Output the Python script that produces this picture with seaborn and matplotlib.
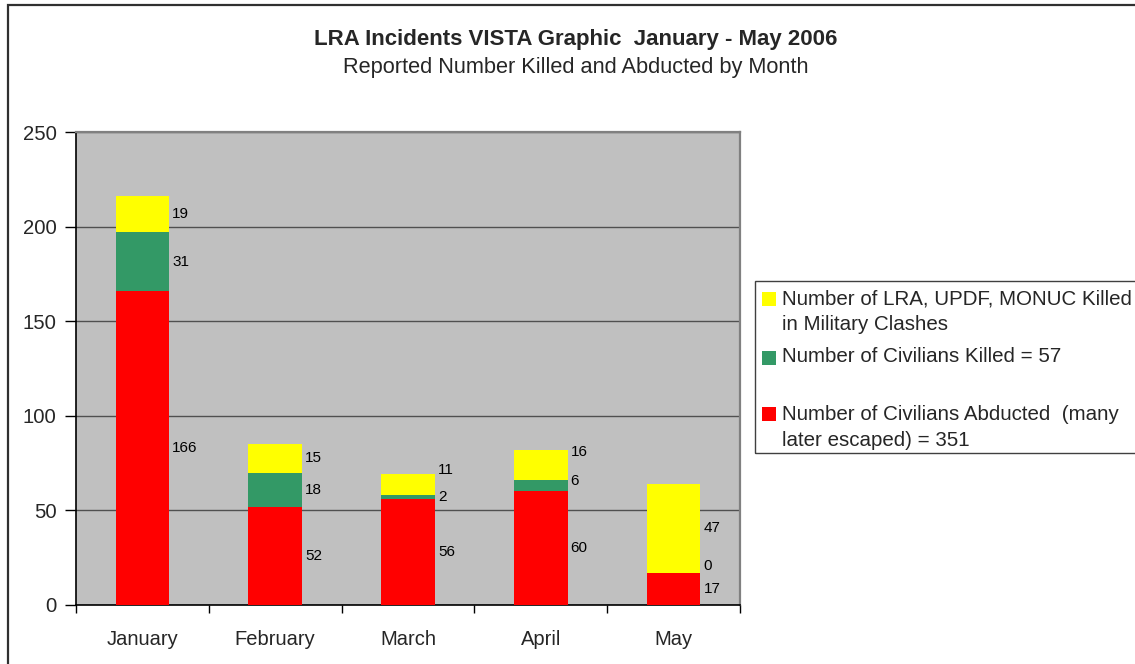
import numpy as np
import pandas as pd
import seaborn as sns
import matplotlib
matplotlib.use("Agg")
import matplotlib.pyplot as plt
import matplotlib.patches as patches

# data
months = ["January", "February", "March", "April", "May"]
abducted = [166, 52, 56, 60, 17]
civ_killed = [31, 18, 2, 6, 0]
mil_killed = [19, 15, 11, 16, 47]

legend_labels = [
    ["Number of LRA, UPDF, MONUC Killed", "in Military Clashes"],
    ["Number of Civilians Killed = 57"],
    ["Number of Civilians Abducted  (many", "later escaped) = 351"],
]

YELLOW = "#FFFF00"
GREEN = "#339966"
RED = "#FF0000"

sns.set_style("white")
plt.rcParams["font.family"] = ["Liberation Sans", "DejaVu Sans"]

df = pd.DataFrame({"month": months, "abducted": abducted,
                   "civ": civ_killed, "mil": mil_killed})
df["lvl2"] = df["abducted"] + df["civ"]
df["total"] = df["lvl2"] + df["mil"]

W, H = 1135, 664
fig = plt.figure(figsize=(W / 100, H / 100), dpi=100)
ax = fig.add_axes([76 / W, 1 - 605 / H, (740 - 76) / W, (605 - 132) / H])
ax.set_facecolor("#C0C0C0")

# stacked bars: draw the tallest first and cover it
bw = 0.405
sns.barplot(data=df, x="month", y="total", color=YELLOW, saturation=1,
            width=bw, ax=ax, linewidth=0, zorder=3)
sns.barplot(data=df, x="month", y="lvl2", color=GREEN, saturation=1,
            width=bw, ax=ax, linewidth=0, zorder=3)
sns.barplot(data=df, x="month", y="abducted", color=RED, saturation=1,
            width=bw, ax=ax, linewidth=0, zorder=3)

# labels that Excel pushed apart (pixels up), keyed (month, segment)
nudge = {(2, 2): 15, (3, 2): 13, (3, 1): 5, (4, 1): 7}

# value labels at the middle of each segment, right of the bar
for i, row in df.iterrows():
    segs = [(row["abducted"], row["abducted"] / 2),
            (row["civ"], row["abducted"] + row["civ"] / 2),
            (row["mil"], row["lvl2"] + row["mil"] / 2)]
    for k, (val, yc) in enumerate(segs):
        dy = nudge.get((i, k), 0)
        ax.annotate(str(val), xy=(i + bw / 2, yc), xytext=(3, dy),
                    textcoords="offset pixels", ha="left", va="center",
                    fontsize=11, color="black", zorder=4)

ax.set_ylim(0, 250)
ax.set_xlim(-0.5, 4.5)
ax.set_yticks(np.arange(0, 251, 50))
ax.yaxis.grid(True, color="#505050", lw=1)
ax.set_axisbelow(True)
ax.set_xlabel("")
ax.set_ylabel("")

ax.tick_params(axis="y", which="major", length=8, width=1, direction="out",
               left=True, pad=6, labelsize=14.6, color="black")
ax.tick_params(axis="x", which="major", length=0, pad=18.3, labelsize=14.5)
ax.set_xticks(np.arange(-0.5, 5, 1), minor=True)
ax.tick_params(axis="x", which="minor", length=6, width=1, bottom=True,
               direction="out", color="black")

for side in ["left", "bottom"]:
    ax.spines[side].set_color("black")
    ax.spines[side].set_linewidth(1.2)
for side in ["top", "right"]:
    ax.spines[side].set_color("#808080")
    ax.spines[side].set_linewidth(1.6)

# titles
fig.text(576 / W, 1 - 39 / H, "LRA Incidents VISTA Graphic  January - May 2006",
         ha="center", va="center", fontsize=16, fontweight="bold")
fig.text(576 / W, 1 - 68 / H, "Reported Number Killed and Abducted by Month",
         ha="center", va="center", fontsize=15.7)

# outer chart border
fig.patches.append(patches.Rectangle((8 / W, -0.05), 1.1, 1 - 5 / H + 0.05,
                                     transform=fig.transFigure, fill=False,
                                     edgecolor="#303030", lw=1.6))

# legend box
fig.patches.append(patches.Rectangle((755 / W, 1 - 453 / H), 0.5, (453 - 281) / H,
                                     transform=fig.transFigure, fill=False,
                                     edgecolor="#404040", lw=1))
leg_colors = [YELLOW, GREEN, RED]
sq_y = [299, 357.5, 414]
line_y = [[299, 324], [357], [414, 440]]
for col, sy, lines, lys in zip(leg_colors, sq_y, legend_labels, line_y):
    fig.patches.append(patches.Rectangle((762 / W, 1 - (sy + 7) / H), 14 / W, 14 / H,
                                         transform=fig.transFigure,
                                         facecolor=col, edgecolor="none"))
    for txt, ly in zip(lines, lys):
        fig.text(782 / W, 1 - ly / H, txt, ha="left", va="center", fontsize=14.8)

fig.savefig("out.png", dpi=100)
